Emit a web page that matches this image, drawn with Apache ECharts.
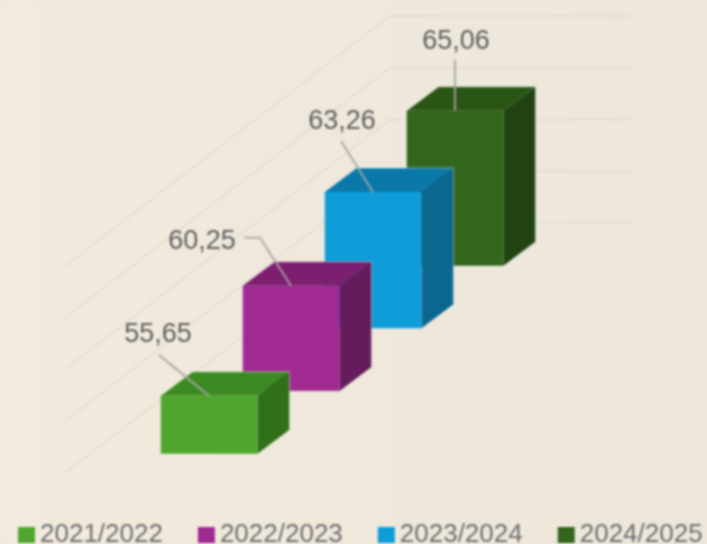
<!DOCTYPE html>
<html>
<head>
<meta charset="utf-8">
<style>
  html, body { margin: 0; padding: 0; background: #efe8dc; overflow: hidden; }
  #main { width: 707px; height: 544px; filter: blur(0.9px); }
</style>
<script src="https://cdn.jsdelivr.net/npm/echarts@6/dist/echarts.min.js"></script>
</head>
<body>
<div id="main"></div>
<script>
// data
const seasons = ["2021/2022", "2022/2023", "2023/2024", "2024/2025"];
const shares = [55.65, 60.25, 63.26, 65.06];
const wallTicks = [50, 55, 60, 65, 70];

// front, top, side colours for each box
const frontColors = ["#4ea62c", "#a02a92", "#0f9dd9", "#32661c"];
const topColors = ["#3c8a22", "#7d1f70", "#0a79a9", "#2a5514"];
const sideColors = ["#2f7018", "#641c5c", "#0b6690", "#214311"];

const barWidth = 97;
const depthX = 32;
const depthY = 24;
const stairY = 62.7; // each box sits higher than the one before
const wallDepthX = 325;
const wallDepthY = 250;
// label centre and leader bend, relative to the top centre of the front face
const labelLayout = [
  { x: -51, y: -61, line: [[-50, -41], [0, 0]] },
  { x: -89, y: -44, line: [[-47, -48], [-31, -48], [0, 0]] },
  { x: -31, y: -70, line: [[-32, -51], [0, 0]] },
  { x: 1, y: -69, line: [[0, -51], [0, 0]] },
];

const renderBox = (params, api) => {
  const i = api.value(0);
  const v = api.value(1);
  const cx = api.coord([i, v])[0];
  const lift = i * stairY;
  const top = api.coord([i, v])[1] - lift;
  const base = api.coord([i, 50])[1] - lift;
  const l = cx - barWidth / 2;
  const r = cx + barWidth / 2;
  const children = [
    {
      type: "polygon",
      shape: { points: [[l, top], [l + depthX, top - depthY], [r + depthX, top - depthY], [r, top]] },
      style: { fill: topColors[i] },
    },
    {
      type: "polygon",
      shape: { points: [[r, top], [r + depthX, top - depthY], [r + depthX, base - depthY], [r, base]] },
      style: { fill: sideColors[i] },
    },
    {
      type: "rect",
      shape: { x: l, y: top, width: barWidth, height: base - top },
      style: { fill: frontColors[i] },
    },
    // pale rim round the outside of the box
    {
      type: "polygon",
      shape: {
        points: [
          [l, top], [l + depthX, top - depthY], [r + depthX, top - depthY],
          [r + depthX, base - depthY], [r, base], [l, base],
        ],
      },
      style: { fill: "none", stroke: "rgba(255,255,255,0.28)", lineWidth: 1.5 },
    },
  ];
  const lay = labelLayout[i];
  children.push({
    type: "polyline",
    shape: { points: lay.line.map((p) => [cx + p[0], top + p[1]]) },
    style: { stroke: "rgba(165,165,165,0.85)", lineWidth: 2.2, fill: "none" },
  });
  children.push({
    type: "text",
    style: {
      text: v.toFixed(2).replace(".", ","),
      x: cx + lay.x,
      y: top + lay.y,
      fill: "#5f5f5f",
      font: "27px 'Liberation Sans'",
      textAlign: "center",
      textVerticalAlign: "middle",
    },
  });
  return { type: "group", children };
};

// floor lines run up to the back corner, then along the back wall
const renderWall = (params, api) => {
  const rect = params.coordSys;
  const y = api.coord([0, api.value(1)])[1];
  return {
    type: "polyline",
    shape: {
      points: [
        [rect.x - wallDepthX, y + wallDepthY],
        [rect.x, y],
        [rect.x + rect.width, y],
      ],
    },
    style: { stroke: "#e3dccf", lineWidth: 1.5, fill: "none" },
  };
};

const myChart = echarts.init(document.getElementById("main"));
const option = {
  animation: false,
  backgroundColor: {
    type: "linear", x: 0, y: 0, x2: 1, y2: 0,
    colorStops: [{ offset: 0, color: "#f1eadd" }, { offset: 1, color: "#ede6da" }],
  },
  grid: [
    { left: 168, top: 248, width: 328, height: 206 }, // boxes
    { left: 390, top: 16, width: 240, height: 207 }, // back wall
  ],
  xAxis: [
    { type: "category", data: seasons, show: false, gridIndex: 0 },
    { type: "value", min: 0, max: 1, show: false, gridIndex: 1 },
  ],
  yAxis: [
    { type: "value", min: 50, max: 70, show: false, gridIndex: 0 },
    { type: "value", min: 50, max: 70, show: false, gridIndex: 1 },
  ],
  legend: {
    data: seasons,
    left: 18,
    top: 522,
    padding: 0,
    width: 700,
    itemWidth: 17,
    itemHeight: 16,
    itemGap: 35,
    icon: "rect",
    textStyle: { color: "#6f6f6f", fontSize: 26, fontFamily: "Liberation Sans" },
  },
  series: [
    {
      type: "custom",
      name: "wall",
      xAxisIndex: 1,
      yAxisIndex: 1,
      z: 1,
      silent: true,
      renderItem: renderWall,
      data: wallTicks.map((t) => [0, t]),
    },
    ...seasons.map((s, i) => ({
      type: "custom",
      name: s,
      xAxisIndex: 0,
      yAxisIndex: 0,
      z: 10 - i,
      itemStyle: { color: frontColors[i] },
      renderItem: renderBox,
      data: [[i, shares[i]]],
    })),
  ],
};
myChart.setOption(option);
</script>
</body>
</html>
